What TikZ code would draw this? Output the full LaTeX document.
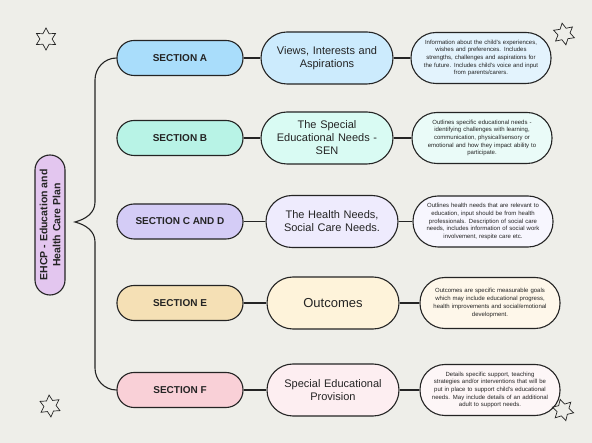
\documentclass[tikz,border=0pt]{standalone}
\usepackage{fontspec}
\setmainfont{Liberation Sans}
\usetikzlibrary{positioning,shapes.geometric}
\definecolor{paper}{HTML}{EEEEE9}
\definecolor{ink}{HTML}{242424}
\definecolor{plan}{HTML}{E3C6EF}
\definecolor{secA}{HTML}{A9DDFB}
\definecolor{midA}{HTML}{CCEBFD}
\definecolor{infA}{HTML}{E3F3FD}
\definecolor{secB}{HTML}{B8F3E6}
\definecolor{midB}{HTML}{D9FBF3}
\definecolor{infB}{HTML}{EAFBF8}
\definecolor{secC}{HTML}{D4CCF6}
\definecolor{midC}{HTML}{EEEBFD}
\definecolor{infC}{HTML}{F7F6FE}
\definecolor{secE}{HTML}{F5E0B5}
\definecolor{midE}{HTML}{FEF3DA}
\definecolor{infE}{HTML}{FEF7EA}
\definecolor{secF}{HTML}{F9D0D7}
\definecolor{midF}{HTML}{FDEEF1}
\definecolor{infF}{HTML}{FDF6F7}

\begin{document}
\begin{tikzpicture}[x=1pt,y=-1pt,
  link/.style={draw=ink,line width=1.1pt},
  secbox/.style={draw=ink,line width=1.1pt,rounded corners=17pt,minimum width=126pt,minimum height=35pt,text=ink,font=\bfseries\fontsize{10}{12}\selectfont},
  midbox/.style={draw=ink,line width=1.1pt,rounded corners=26pt,minimum width=132pt,minimum height=52pt,text width=120pt,align=center,text=ink,font=\fontsize{11}{13}\selectfont},
  infbox/.style={draw=ink,line width=1.1pt,rounded corners=25pt,minimum width=140pt,minimum height=51pt,text width=128pt,align=center,text=ink,font=\fontsize{6}{7.7}\selectfont},
  deco/.style={star,star points=6,star point ratio=1.8,draw=ink,line width=0.7pt,minimum size=22pt,inner sep=0pt}]
\useasboundingbox[fill=paper] (0,0) rectangle (592,443);

% plan + brace
\node[draw=ink,line width=1.1pt,fill=plan,rounded corners=15pt,minimum width=140pt,minimum height=30pt,rotate=90,align=center,text=ink,font=\bfseries\fontsize{10.5}{13}\selectfont] (plan) at (50,225) {EHCP - Education and\\Health Care Plan};
\coordinate (tip) at (75,222);

\foreach \y/\id/\mx/\ix/\sectxt/\midtxt/\infotxt in {
58/A/327/481/SECTION A/{Views, Interests and\\Aspirations}/{Information about the child's experiences,\\wishes and preferences.  Includes\\strengths, challenges and aspirations for\\the future. Includes child's voice and input\\from parents/carers.},
138/B/327/482/SECTION B/{The Special\\Educational Needs -\\SEN}/{Outlines specific educational needs -\\identifying  challenges with learning,\\communication, physical/sensory or\\emotional and how they impact ability to\\participate.},
221.5/C/332/483/SECTION C AND D/{The Health Needs,\\Social Care Needs.}/{Outlines health needs that are relevant to\\education, input should be from health\\professionals. Description of social care\\needs, includes information of social work\\involvement, respite care etc.},
303/E/333/490/SECTION E/{\fontsize{13}{15}\selectfont Outcomes}/{Outcomes are specific measurable goals\\which may include educational progress,\\health improvements and social/emotional\\development.},
390/F/333/490/SECTION F/{Special Educational\\Provision}/{Details specific support, teaching\\strategies and/or interventions that will be\\put in place to support child's educational\\needs. May include details of an additional\\adult to support needs.}}
{
  \node[secbox,fill=sec\id] (s\id) at (180,\y) {\sectxt};
  \node[midbox,fill=mid\id] (m\id) at (\mx,\y) {\midtxt};
  \node[infbox,fill=inf\id] (i\id) at (\ix,\y) {\infotxt};
  \draw[link] (s\id) -- (m\id);
  \draw[link] (m\id) -- (i\id);
}

\draw[link] (sA.west) to[out=180,in=90] (95,80) -- (95,202) to[out=-90,in=15] (tip)
  to[out=-15,in=90] (95,242) -- (95,368) to[out=-90,in=180] (sF.west);

% stars
\node[deco] (star1) at (46,39) {};
\node[deco,rotate=10] (star2) at (564,34) {};
\node[deco,rotate=5] (star3) at (50,406) {};
\node[deco,rotate=15] (star4) at (563,410) {};
\end{tikzpicture}
\end{document}
